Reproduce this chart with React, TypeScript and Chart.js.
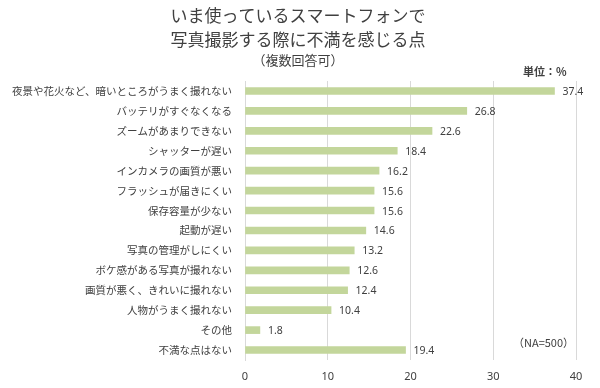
import React, { useEffect, useRef } from "react";
import Chart from "chart.js/auto";

const titleLines = ["いま使っているスマートフォンで", "写真撮影する際に不満を感じる点"];
const subtitleText = "（複数回答可）";
const unitText = "単位：%";
const noteText = "（NA=500）";

const categories = [
  "夜景や花火など、暗いところがうまく撮れない",
  "バッテリがすぐなくなる",
  "ズームがあまりできない",
  "シャッターが遅い",
  "インカメラの画質が悪い",
  "フラッシュが届きにくい",
  "保存容量が少ない",
  "起動が遅い",
  "写真の管理がしにくい",
  "ボケ感がある写真が撮れない",
  "画質が悪く、きれいに撮れない",
  "人物がうまく撮れない",
  "その他",
  "不満な点はない",
];

const values = [37.4, 26.8, 22.6, 18.4, 16.2, 15.6, 15.6, 14.6, 13.2, 12.6, 12.4, 10.4, 1.8, 19.4];

const xTicks = [0, 10, 20, 30, 40];

const TEXT = "#404040";
const JP = "'Noto Sans CJK JP', 'Noto Sans', sans-serif";

export default function App() {
  const ref = useRef<HTMLCanvasElement | null>(null);

  useEffect(() => {
    if (!ref.current) return;

    const textPlugin = {
      id: "texts",
      afterDraw(chart: any) {
        const ctx = chart.ctx;
        ctx.save();
        ctx.fillStyle = TEXT;
        ctx.textAlign = "center";
        ctx.textBaseline = "middle";
        ctx.font = `17px ${JP}`;
        ctx.fillText(titleLines[0], 298, 16);
        ctx.fillText(titleLines[1], 298, 40);
        ctx.font = `13px ${JP}`;
        ctx.fillText(subtitleText, 298, 60);
        ctx.textAlign = "left";
        ctx.font = `bold 11px ${JP}`;
        ctx.fillText(unitText, 523, 72);
        ctx.font = `11px ${JP}`;
        ctx.fillText(noteText, 513, 343);
        ctx.restore();
      },
    };

    const labelPlugin = {
      id: "valueLabels",
      afterDatasetsDraw(chart: any) {
        const ctx = chart.ctx;
        const meta = chart.getDatasetMeta(0);
        ctx.save();
        ctx.fillStyle = TEXT;
        ctx.font = "10.5px 'Noto Sans', sans-serif";
        ctx.textAlign = "left";
        ctx.textBaseline = "middle";
        meta.data.forEach((bar: any, i: number) => {
          ctx.fillText(values[i].toFixed(1), bar.x + 8, bar.y + 1);
        });
        ctx.restore();
      },
    };

    const chart = new Chart(ref.current, {
      type: "bar",
      data: {
        labels: categories,
        datasets: [
          {
            data: values,
            backgroundColor: "#c3d69b",
            borderColor: "#d7e4bd",
            borderWidth: 0,
            barThickness: 7,
          },
        ],
      },
      options: {
        indexAxis: "y",
        responsive: false,
        animation: false,
        events: [],
        layout: { padding: { top: 81, right: 24, bottom: 0, left: 0 } },
        plugins: {
          legend: { display: false },
          title: { display: false },
          tooltip: { enabled: false },
        },
        scales: {
          x: {
            min: 0,
            max: 40,
            afterFit(scale: any) {
              scale.height = 28;
            },
            afterBuildTicks(scale: any) {
              scale.ticks = xTicks.map((v) => ({ value: v }));
            },
            grid: { color: "#d9d9d9", drawTicks: false, lineWidth: 1 },
            border: { display: false },
            ticks: {
              padding: 10,
              color: TEXT,
              font: { family: "'Noto Sans', sans-serif", size: 11 },
            },
          },
          y: {
            afterFit(scale: any) {
              scale.width = 245;
            },
            grid: { display: false, drawTicks: false },
            border: { display: true, color: "#d9d9d9", width: 1 },
            ticks: {
              padding: 13,
              color: TEXT,
              autoSkip: false,
              font: { family: JP, size: 10.5 },
            },
          },
        },
      },
      plugins: [textPlugin, labelPlugin],
    } as any);

    return () => chart.destroy();
  }, []);

  return (
    <div style={{ position: "fixed", left: 0, top: 0, width: 600, height: 388, background: "#fff" }}>
      <canvas ref={ref} width={600} height={388} style={{ display: "block", width: 600, height: 388 }} />
    </div>
  );
}
